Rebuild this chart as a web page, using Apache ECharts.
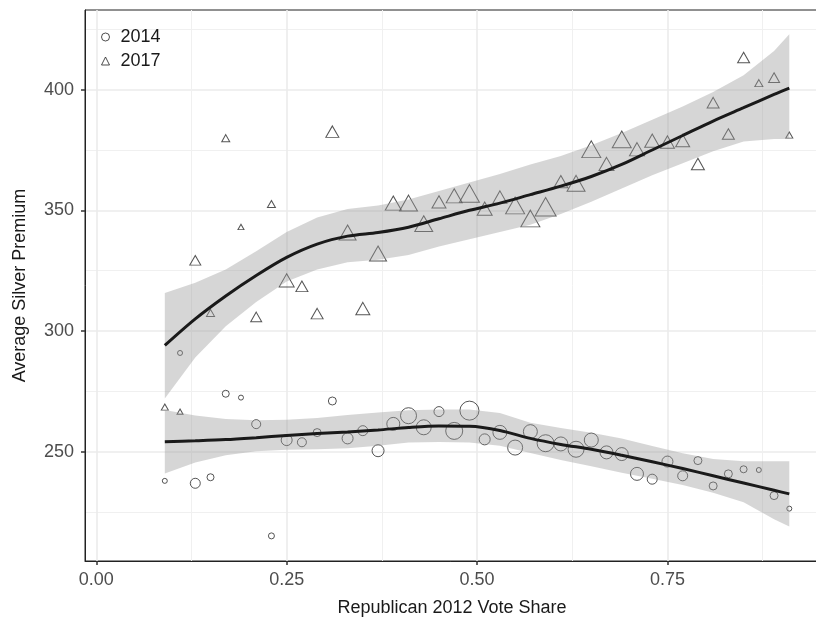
<!DOCTYPE html>
<html><head><meta charset="utf-8">
<script src="https://cdn.jsdelivr.net/npm/echarts@6/dist/echarts.min.js"></script>
<style>html,body{margin:0;padding:0;background:#fff}#c{width:816px;height:621px}</style>
</head><body><div id="c"></div>
<script>
// ---- data ----
const voteShare = [0.09,0.11,0.13,0.15,0.17,0.19,0.21,0.23,0.25,0.27,0.29,0.31,0.33,0.35,0.37,0.39,0.41,0.43,0.45,0.47,0.49,0.51,0.53,0.55,0.57,0.59,0.61,0.63,0.65,0.67,0.69,0.71,0.73,0.75,0.77,0.79,0.81,0.83,0.85,0.87,0.89,0.91];
const premium2014 = [237.9,290.9,236.9,239.4,274,272.4,261.4,215.1,254.8,253.9,257.9,271,255.5,258.7,250.4,261.5,264.9,260.1,266.6,258.6,267,255.1,258,251.7,258.3,253.5,253.2,251,254.8,249.7,249,240.8,238.6,245.9,240,246.3,235.8,240.8,242.7,242.4,231.8,226.4];
const premium2017 = [268.5,266.6,329.3,307.5,379.9,343.1,305.8,352.6,321,318.5,307.2,382.6,340.8,309.3,332.1,353,353,344.5,353.5,356,357,350.7,355.5,352,346.6,351.5,361.9,361.2,375.3,369.2,379.4,375.3,378.9,378.3,378.9,369.2,394.6,381.6,413.3,402.7,405,381.2];
// relative weight of each state (drives marker size)
const weight2014 = [5,5,10,7,7,5,9,6,11,9,8,8,11,10,12,13,16,15,10,17,19,11,14,15,14,17,14,16,14,13,13,13,10,11,10,8,8,8,7,5,8,5];
const weight2017 = [7,6,11,8,8,6,11,8,15,12,12,13,17,14,17,16,18,18,14,16,20,15,14,19,19,21,14,18,19,15,19,15,15,14,14,13,12,12,12,8,11,7];
// smoother fits (loess line and 95% band)
const fitX    = [0.09,0.13,0.17,0.21,0.25,0.29,0.33,0.37,0.41,0.45,0.49,0.53,0.57,0.61,0.65,0.69,0.73,0.77,0.81,0.85,0.89,0.91];
const fit2017 = [294,305,314.5,323,330.5,336,339.3,340.8,343,346.5,350,353,356.5,360,364,369,375,381,387,392.5,398,400.6];
const hi2017  = [315.7,320,325.5,333,341,347,350.5,352,354.5,358,361.5,365,369,372.5,377,382,387.5,393,399,406,416,423];
const lo2017  = [272,289,302,312,320.5,325.5,328.5,329.5,331.5,335,338,341,344,348.5,353.5,359,364.5,369.5,374.5,378.5,379.5,379.5];
const fit2014 = [254.1,254.5,255,255.8,256.7,257.5,258.2,259,260,260.6,260.5,258.8,255.5,253,251,248.5,245.8,243,240,237,234,232.5];
const hi2014  = [267.3,265,263.5,263,263.2,264,265.2,266.2,267.2,267.5,267.5,266,262,259.8,257.8,255.5,252.3,249.3,247,246,246,246];
const lo2014  = [241,245.5,248.5,250.2,250.8,251,251.4,252.5,253.8,254,253.8,252.5,249.5,246.5,244,241.3,238.8,236.2,233,229,222,219];
const xTicks = [0, 0.25, 0.5, 0.75];
const xMinor = [0.125, 0.375, 0.625, 0.875];
const yTicks = [250, 300, 350, 400];
const yMinor = [225, 275, 325, 375, 425];
const seriesNames = ['2014', '2017'];

// ---- chart ----
const FONT = 'Liberation Sans, Arial, Helvetica, sans-serif';
const XMIN = -0.0148, XMAX = 0.949, YMIN = 204.7, YMAX = 433.0;
const chart = echarts.init(document.getElementById('c'), null, {renderer: 'canvas'});

const pts = (ys, ws) => voteShare.map((x, i) => [x, ys[i], ws[i]]);
const line = ys => fitX.map((x, i) => [x, ys[i]]);

const markerStyle = {color: 'rgba(0,0,0,0)', borderColor: '#2a2a2a', borderWidth: 1};

// confidence band drawn as one polygon through the axis scales
const ribbon = (name, lo, hi) => ({
  type: 'custom', name: name + 'band', silent: true, z: 3, clip: true,
  data: fitX.map((x, i) => [x, lo[i], hi[i]]),
  encode: {x: 0, y: [1, 2]},
  renderItem: function (params, api) {
    if (params.dataIndexInside !== 0) return null;
    const n = params.dataInsideLength;
    const upper = [], lower = [];
    for (let i = 0; i < n; i++) {
      upper.push(api.coord([api.value(0, i), api.value(2, i)]));
      lower.push(api.coord([api.value(0, i), api.value(1, i)]));
    }
    const points = upper.concat(lower.reverse());
    return {type: 'polygon', shape: {points: points},
            style: {fill: 'rgba(153,153,153,0.4)', stroke: null}};
  }
});
const fitLine = (name, ys) => ({type: 'line', name: name + 'fit', data: line(ys), smooth: 0.3, symbol: 'none',
  lineStyle: {color: '#1a1a1a', width: 3}, silent: true, z: 4});

const majorSplit = {show: true, lineStyle: {color: '#ebebeb', width: 1.6}};
const minorSplit = {show: true, lineStyle: {color: '#f0f0f0', width: 1}};

chart.setOption({
  animation: false,
  backgroundColor: '#ffffff',
  textStyle: {fontFamily: FONT},
  grid: {left: 85, right: -3, top: 10, bottom: 60, show: true, borderColor: '#222', borderWidth: 1,
         backgroundColor: 'rgba(0,0,0,0)', outerBoundsMode: 'none'},
  legend: {
    orient: 'vertical', left: 96, top: 23, itemWidth: 8, itemHeight: 8, itemGap: 6,
    selectedMode: false,
    data: [{name: seriesNames[0], icon: 'circle'}, {name: seriesNames[1], icon: 'triangle'}],
    itemStyle: {color: 'rgba(0,0,0,0)', borderColor: '#222', borderWidth: 1},
    textStyle: {fontSize: 18, color: '#1a1a1a', fontFamily: FONT, padding: [0, 0, 0, 6]}
  },
  xAxis: [
    {type: 'value', min: XMIN, max: XMAX, position: 'bottom',
     name: 'Republican 2012 Vote Share', nameLocation: 'middle', nameGap: 38,
     nameTextStyle: {fontSize: 18, color: '#1a1a1a', fontFamily: FONT},
     axisLine: {show: true, onZero: false, lineStyle: {color: '#222', width: 1}},
     axisTick: {show: true, length: 4, customValues: xTicks, lineStyle: {color: '#333', width: 1.5}},
     axisLabel: {show: true, customValues: xTicks, fontSize: 18, color: '#4d4d4d', margin: 10,
                 formatter: v => Number(v).toFixed(2)},
     splitLine: majorSplit},
    {type: 'value', min: XMIN, max: XMAX, position: 'top', show: true,
     axisLine: {show: false}, axisLabel: {show: false},
     axisTick: {show: false, customValues: xMinor}, splitLine: minorSplit}
  ],
  yAxis: [
    {type: 'value', min: YMIN, max: YMAX, position: 'left',
     name: 'Average Silver Premium', nameLocation: 'middle', nameGap: 56,
     nameTextStyle: {fontSize: 18, color: '#1a1a1a', fontFamily: FONT},
     axisLine: {show: true, onZero: false, lineStyle: {color: '#222', width: 1}},
     axisTick: {show: true, length: 4, customValues: yTicks, lineStyle: {color: '#333', width: 1.5}},
     axisLabel: {show: true, customValues: yTicks, fontSize: 18, color: '#4d4d4d', margin: 11},
     splitLine: majorSplit},
    {type: 'value', min: YMIN, max: YMAX, position: 'right', show: true,
     axisLine: {show: false}, axisLabel: {show: false},
     axisTick: {show: false, customValues: yMinor}, splitLine: minorSplit}
  ],
  series: [
    {type: 'scatter', name: seriesNames[0], data: pts(premium2014, weight2014), symbol: 'circle',
     symbolSize: v => v[2], itemStyle: markerStyle, z: 2},
    {type: 'scatter', name: seriesNames[1], data: pts(premium2017, weight2017), symbol: 'triangle',
     symbolSize: v => [v[2], v[2] * 0.88], itemStyle: markerStyle, z: 2},
    ribbon('r2014', lo2014, hi2014),
    ribbon('r2017', lo2017, hi2017),
    fitLine('r2014', fit2014),
    fitLine('r2017', fit2017)
  ]
});
</script>
</body></html>
